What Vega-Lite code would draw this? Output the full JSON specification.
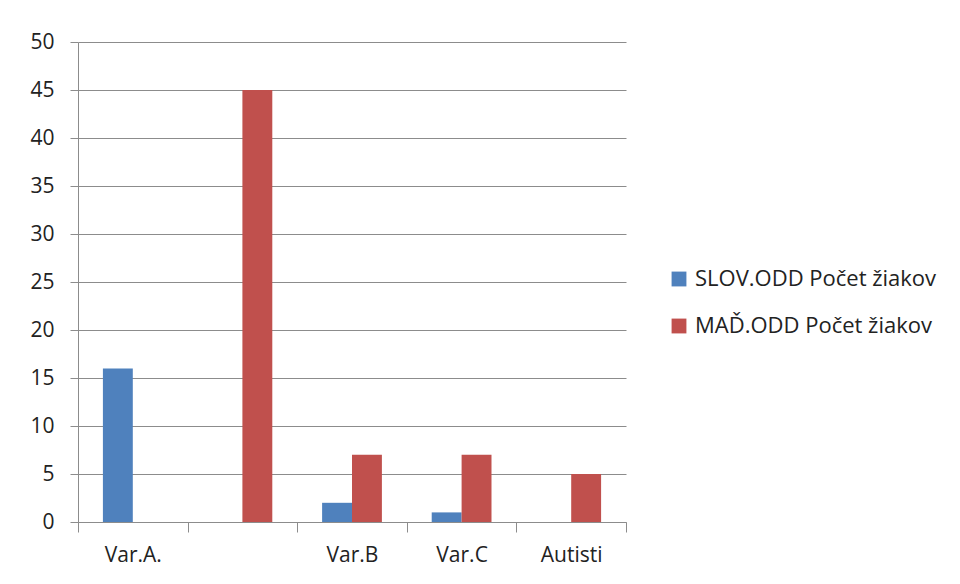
{
  "$schema": "https://vega.github.io/schema/vega-lite/v6.json",
  "width": 548,
  "height": 480,
  "autosize": {"type": "none"},
  "padding": {"left": 78, "top": 42, "right": 334, "bottom": 62},
  "background": "white",
  "data": {
    "values": [
      {"cat": "Var.A.", "series": "SLOV.ODD Počet žiakov", "value": 16},
      {"cat": "Var.A.", "series": "MAĎ.ODD Počet žiakov", "value": 0},
      {"cat": " ", "series": "SLOV.ODD Počet žiakov", "value": 0},
      {"cat": " ", "series": "MAĎ.ODD Počet žiakov", "value": 45},
      {"cat": "Var.B", "series": "SLOV.ODD Počet žiakov", "value": 2},
      {"cat": "Var.B", "series": "MAĎ.ODD Počet žiakov", "value": 7},
      {"cat": "Var.C", "series": "SLOV.ODD Počet žiakov", "value": 1},
      {"cat": "Var.C", "series": "MAĎ.ODD Počet žiakov", "value": 7},
      {"cat": "Autisti", "series": "SLOV.ODD Počet žiakov", "value": 0},
      {"cat": "Autisti", "series": "MAĎ.ODD Počet žiakov", "value": 5}
    ]
  },
  "mark": {"type": "bar"},
  "encoding": {
    "x": {
      "field": "cat",
      "type": "nominal",
      "sort": null,
      "scale": {"paddingInner": 0, "paddingOuter": 0},
      "axis": {
        "title": null,
        "labelAngle": 0,
        "tickBand": "extent",
        "tickSize": 10,
        "tickColor": "#8c8c8c",
        "domainColor": "#8c8c8c",
        "labelFont": "Open Sans",
        "labelFontSize": 21,
        "labelColor": "#222222",
        "labelPadding": 12
      }
    },
    "xOffset": {
      "field": "series",
      "type": "nominal",
      "sort": ["SLOV.ODD Počet žiakov", "MAĎ.ODD Počet žiakov"],
      "scale": {"paddingInner": 0, "paddingOuter": 0.833}
    },
    "y": {
      "field": "value",
      "type": "quantitative",
      "scale": {"domain": [0, 50], "nice": false},
      "axis": {
        "title": null,
        "values": [0, 5, 10, 15, 20, 25, 30, 35, 40, 45, 50],
        "tickSize": 8,
        "tickColor": "#8c8c8c",
        "domainColor": "#8c8c8c",
        "gridColor": "#8c8c8c",
        "grid": true,
        "labelFont": "Open Sans",
        "labelFontSize": 21,
        "labelColor": "#222222",
        "labelPadding": 16
      }
    },
    "color": {
      "field": "series",
      "type": "nominal",
      "sort": ["SLOV.ODD Počet žiakov", "MAĎ.ODD Počet žiakov"],
      "scale": {"range": ["#4F81BD", "#C0504D"]},
      "legend": {
        "title": null,
        "orient": "none",
        "legendX": 590,
        "legendY": 226,
        "symbolType": "square",
        "symbolSize": 220,
        "symbolStrokeWidth": 0,
        "labelFont": "Open Sans",
        "labelFontSize": 22,
        "labelLimit": 0,
        "labelColor": "#222222",
        "rowPadding": 25,
        "labelOffset": 5
      }
    }
  },
  "config": {
    "view": {"stroke": null},
    "axis": {"domainWidth": 1, "gridWidth": 1}
  }
}
